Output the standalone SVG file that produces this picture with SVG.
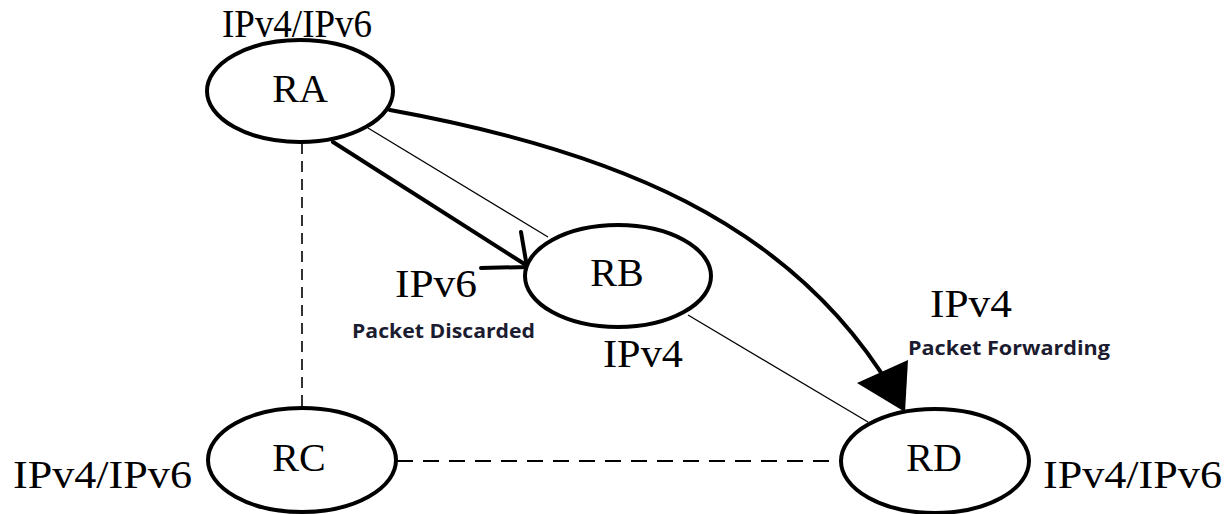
<svg xmlns="http://www.w3.org/2000/svg" width="1230" height="514" viewBox="0 0 1230 514">
<style>
.node{fill:#fff;stroke:#000;stroke-width:4}
.lbl{font-family:"Liberation Serif","Times New Roman",serif;font-size:41px;fill:#000}
.nm{font-family:"Liberation Serif","Times New Roman",serif;font-size:40px;fill:#000;text-anchor:middle}
.note{font-family:"Open Sans","Noto Sans",sans-serif;font-weight:bold;font-size:20px;fill:#1c1c30}
.thick{fill:none;stroke:#000;stroke-width:4;stroke-linecap:round}
.thin{fill:none;stroke:#000;stroke-width:1.3}
.dash{fill:none;stroke:#000;stroke-width:2.2;stroke-dasharray:16 10}
.vdash{fill:none;stroke:#000;stroke-width:1.6;stroke-dasharray:11 7}
</style>
<rect width="1230" height="514" fill="#fff"/>
<g id="connectors">
  <line class="vdash" x1="302" y1="143" x2="302" y2="408"/>
  <line class="dash" x1="397" y1="461" x2="840" y2="461"/>
  <line class="thin" x1="368" y1="128" x2="548" y2="237"/>
  <line class="thin" x1="688" y1="315" x2="868" y2="422"/>
  <line class="thick" x1="333" y1="142" x2="526" y2="265"/>
  <polyline class="thick" points="521,232 527,267 481,268"/>
  <path class="thick" d="M 390 110 C 610 150, 790 220, 892 390"/>
  <polygon points="857,383 908,360 905,412" fill="#000"/>
</g>
<g id="RA">
  <ellipse class="node" cx="300" cy="91" rx="93" ry="51"/>
  <text class="nm" x="300" y="102">RA</text>
</g>
<g id="RB">
  <ellipse class="node" cx="618" cy="276" rx="93" ry="51"/>
  <text class="nm" x="617" y="286">RB</text>
</g>
<g id="RC">
  <ellipse class="node" cx="302" cy="460" rx="94" ry="52"/>
  <text class="nm" x="299" y="471">RC</text>
</g>
<g id="RD">
  <ellipse class="node" cx="935" cy="461" rx="94" ry="52"/>
  <text class="nm" x="934" y="471">RD</text>
</g>
<g id="labels">
  <text class="lbl" x="222" y="37" textLength="150" lengthAdjust="spacingAndGlyphs">IPv4/IPv6</text>
  <text class="lbl" x="13" y="488" textLength="179" lengthAdjust="spacingAndGlyphs">IPv4/IPv6</text>
  <text class="lbl" x="1043" y="488" textLength="179" lengthAdjust="spacingAndGlyphs">IPv4/IPv6</text>
  <text class="lbl" x="395" y="297" textLength="82" lengthAdjust="spacingAndGlyphs">IPv6</text>
  <text class="lbl" x="603" y="367" textLength="80" lengthAdjust="spacingAndGlyphs">IPv4</text>
  <text class="lbl" x="930" y="317" textLength="82" lengthAdjust="spacingAndGlyphs">IPv4</text>
  <text class="note" x="352" y="338" textLength="183" lengthAdjust="spacingAndGlyphs">Packet Discarded</text>
  <text class="note" x="908" y="355" textLength="202" lengthAdjust="spacingAndGlyphs">Packet Forwarding</text>
</g>
</svg>
